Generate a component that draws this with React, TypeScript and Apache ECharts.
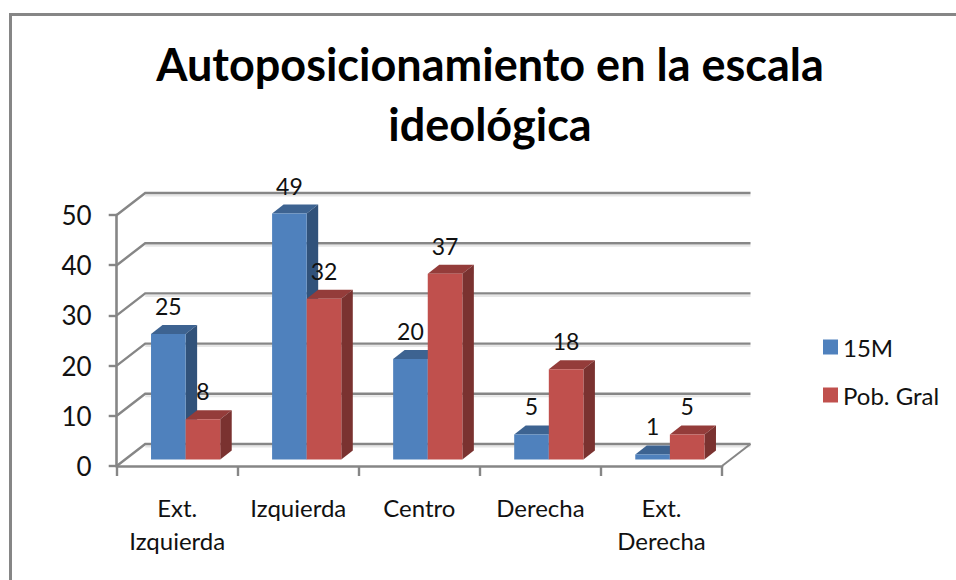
import React, { useEffect, useRef } from "react";
import * as echarts from "echarts";

const titleText = "Autoposicionamiento en la escala\nideológica";
const categories = ["Ext.\nIzquierda", "Izquierda", "Centro", "Derecha", "Ext.\nDerecha"];
const seriesNames = ["15M", "Pob. Gral"];
const values15M = [25, 49, 20, 5, 1];
const valuesPob = [8, 32, 37, 18, 5];
const yTicks = [0, 10, 20, 30, 40, 50];

const FONT = "Lato, Carlito, 'Open Sans', sans-serif";
const AXIS = "#868686";
const DEPTH_X = 28.5;
const DEPTH_Y = 22;
const BAR_DX = 8.4;
const BAR_DY = 6.5;
const BAR_W = 34.6;
const TOP_X = 11.5;
const TOP_Y = 9;

const makeBars = (slot: number, front: string, top: string, side: string) => (_: any, api: any) => {
  const c = api.coord([api.value(0), api.value(1)]);
  const b = api.coord([api.value(0), 0]);
  const x0 = c[0] + BAR_DX + (slot - 1) * BAR_W;
  const x1 = x0 + BAR_W;
  const yT = c[1] - BAR_DY;
  const yB = b[1] - BAR_DY;
  return {
    type: "group",
    children: [
      {
        type: "polygon",
        shape: { points: [[x0, yT], [x1, yT], [x1 + TOP_X, yT - TOP_Y], [x0 + TOP_X, yT - TOP_Y]] },
        style: { fill: top },
      },
      {
        type: "polygon",
        shape: { points: [[x1, yT], [x1 + TOP_X, yT - TOP_Y], [x1 + TOP_X, yB - TOP_Y], [x1, yB]] },
        style: { fill: side },
      },
      { type: "rect", shape: { x: x0, y: yT, width: BAR_W, height: yB - yT }, style: { fill: front } },
      {
        type: "text",
        x: (x0 + x1) / 2,
        y: yT - 28,
        style: {
          text: String(api.value(1)),
          font: `23px ${FONT}`,
          fill: "#111",
          align: "center",
          verticalAlign: "middle",
        },
      },
    ],
  };
};

const renderWall = (_: any, api: any) => {
  const band = api.size([1, 0])[0];
  const l = api.coord([0, api.value(1)]);
  const r = api.coord([4, api.value(1)]);
  const xL = l[0] - band / 2;
  const xR = r[0] + band / 2 + DEPTH_X;
  const y = l[1];
  const yB = y - DEPTH_Y;
  const children: any[] = [
    {
      type: "line",
      shape: { x1: xL + DEPTH_X, y1: yB + 2.5, x2: xR, y2: yB + 2.5 },
      style: { stroke: "#e6e6e6", lineWidth: 2 },
    },
    {
      type: "polyline",
      shape: { points: [[xL, y], [xL + DEPTH_X, yB], [xR, yB]] },
      style: { stroke: AXIS, lineWidth: 2.4, fill: "none" },
    },
  ];
  if (api.value(1) === 0) {
    children.push({
      type: "line",
      shape: { x1: xR - DEPTH_X, y1: y, x2: xR, y2: yB },
      style: { stroke: AXIS, lineWidth: 2 },
    });
  }
  return { type: "group", children };
};

export default function App() {
  const ref = useRef<HTMLDivElement>(null);
  useEffect(() => {
    const chart = echarts.init(ref.current!, undefined, { renderer: "svg" });
    chart.setOption({
      animation: false,
      backgroundColor: "#fff",
      textStyle: { fontFamily: FONT },
      title: {
        text: titleText,
        left: 485,
        top: 29,
        textAlign: "center",
        textStyle: { fontFamily: FONT, fontSize: 45, fontWeight: "bold", color: "#000", lineHeight: 60 },
      },
      legend: {
        orient: "vertical",
        left: 823,
        top: 335,
        padding: 0,
        itemWidth: 15,
        itemHeight: 15,
        itemGap: 24,
        icon: "rect",
        data: seriesNames,
        textStyle: { fontFamily: FONT, fontSize: 24, color: "#111" },
      },
      grid: { left: 116.7, top: 215, width: 605.3, height: 251, containLabel: false },
      xAxis: {
        type: "category",
        data: categories,
        axisLine: { lineStyle: { color: AXIS, width: 2.6 } },
        axisTick: { show: true, alignWithLabel: false, length: 10, lineStyle: { color: AXIS, width: 2.4 } },
        axisLabel: { fontFamily: FONT, fontSize: 24, color: "#111", margin: 25, lineHeight: 33, interval: 0, verticalAlign: "top" },
      },
      yAxis: {
        type: "value",
        min: 0,
        max: 50,
        interval: 10,
        splitLine: { show: false },
        axisLine: { show: true, lineStyle: { color: AXIS, width: 2.6 } },
        axisTick: { show: true, length: 8, lineStyle: { color: AXIS, width: 2.4 } },
        axisLabel: { fontFamily: FONT, fontSize: 26, color: "#111", margin: 25 },
      },
      series: [
        {
          type: "custom",
          name: "wall",
          z: 1,
          silent: true,
          clip: false,
          renderItem: renderWall,
          data: yTicks.map((t) => [0, t]),
          encode: { x: 0, y: 1 },
        },
        {
          type: "custom",
          name: seriesNames[0],
          z: 3,
          clip: false,
          itemStyle: { color: "#4f81bd" },
          renderItem: makeBars(0, "#4f81bd", "#3d6391", "#31527a"),
          data: values15M.map((v, i) => [i, v]),
          encode: { x: 0, y: 1 },
        },
        {
          type: "custom",
          name: seriesNames[1],
          z: 4,
          clip: false,
          itemStyle: { color: "#c0504d" },
          renderItem: makeBars(1, "#c0504d", "#943c3a", "#7a3230"),
          data: valuesPob.map((v, i) => [i, v]),
          encode: { x: 0, y: 1 },
        },
      ],
      graphic: [
        {
          type: "polyline",
          z: 0,
          shape: { points: [[10.5, 580], [10.5, 14.5], [956, 14.5]] },
          style: { stroke: AXIS, lineWidth: 3, fill: "none" },
        },
      ],
    });
    return () => chart.dispose();
  }, []);
  return <div ref={ref} style={{ position: "fixed", left: 0, top: 0, width: 956, height: 580 }} />;
}
